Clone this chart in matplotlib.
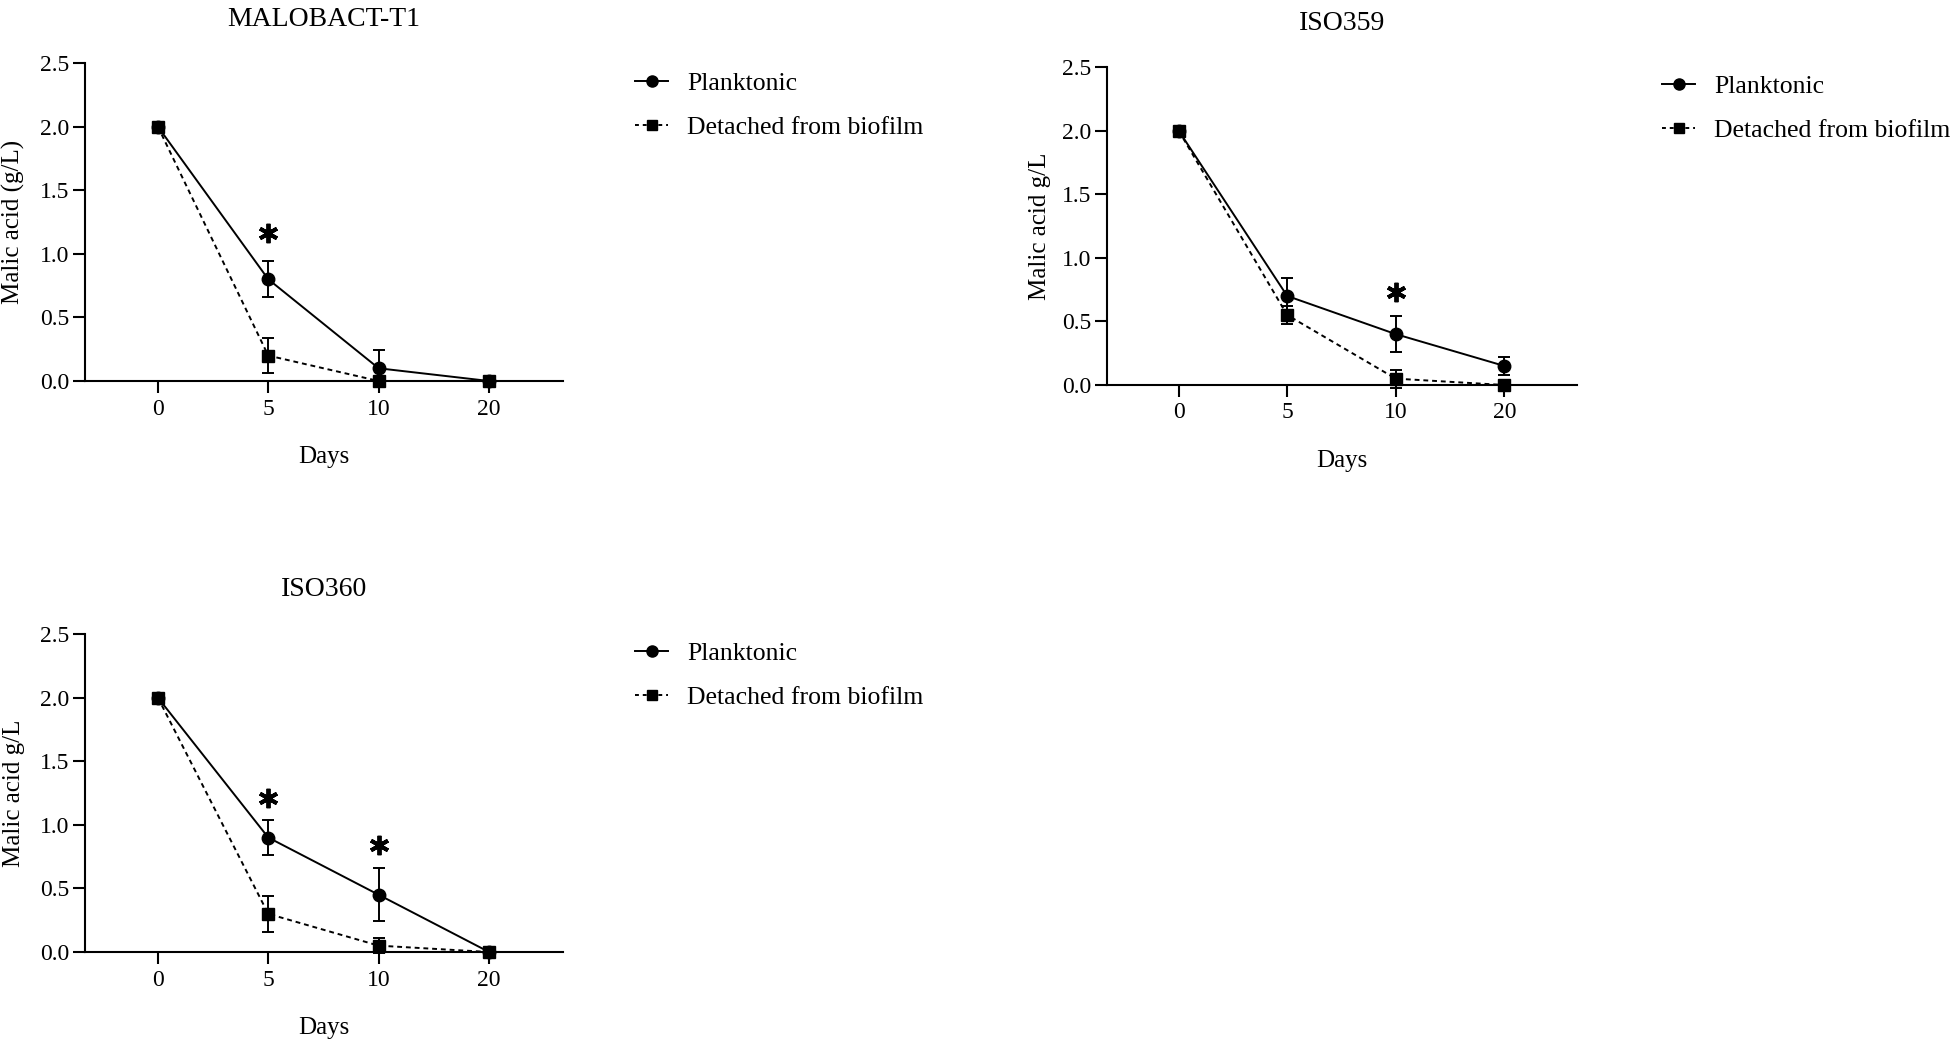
import matplotlib
matplotlib.use("Agg")
import matplotlib.pyplot as plt
from matplotlib.lines import Line2D

plt.rcParams['font.family'] = ['Liberation Serif', 'DejaVu Serif']

# datos
dias = ["0", "5", "10", "20"]

titulos = ["MALOBACT-T1", "ISO359", "ISO360"]
ylabels = ["Malic acid (g/L)", "Malic acid g/L", "Malic acid g/L"]

plank = [[2.0, 0.8, 0.1, 0.0],
         [2.0, 0.7, 0.4, 0.15],
         [2.0, 0.9, 0.45, 0.0]]
plank_err = [[0, 0.14, 0.14, 0],
             [0, 0.14, 0.14, 0.07],
             [0, 0.14, 0.21, 0]]

detach = [[2.0, 0.2, 0.0, 0.0],
          [2.0, 0.55, 0.05, 0.0],
          [2.0, 0.3, 0.05, 0.0]]
detach_err = [[0, 0.14, 0, 0],
              [0, 0.07, 0.07, 0],
              [0, 0.14, 0.06, 0]]

# asteriscos: (indice del dia, altura)
signif = [[(1, 1.16)],
          [(2, 0.73)],
          [(1, 1.21), (2, 0.84)]]

fig = plt.figure(figsize=(19.5, 10.44), dpi=100)

W, H = 1950, 1044
# posiciones en pixeles: izquierda, arriba, derecha, abajo
cajas = [(85, 63, 563, 381), (1107, 67, 1577, 385), (85, 634, 563, 952)]
leyendas = [(635, 72), (1662, 75), (635, 642)]
ylab_x = [-0.126, -0.12, -0.126]

x = list(range(len(dias)))

for i in range(3):
    l, t, r, b = cajas[i]
    ax = fig.add_axes([l / W, 1 - b / H, (r - l) / W, (b - t) / H])

    ax.errorbar(x, plank[i], yerr=plank_err[i], color="black", lw=1.4,
                marker="o", ms=9, capsize=4.5, elinewidth=1.4, capthick=1.4,
                label="Planktonic", clip_on=False, zorder=3)
    ax.errorbar(x, detach[i], yerr=detach_err[i], color="black", lw=1.4,
                ls=(0, (2.5, 2)), marker="s", ms=8.5, capsize=4.5,
                elinewidth=1.4, capthick=1.4,
                label="Detached from biofilm", clip_on=False, zorder=3)

    for (k, yv) in signif[i]:
        ax.plot(k, yv, marker=(6, 2, 0), ms=14, mew=2.8, color="black",
                ls="none")

    ax.set_xlim(-0.66, 3.67)
    ax.set_ylim(0, 2.5)
    ax.set_xticks(x)
    ax.set_xticklabels(dias)
    ax.set_yticks([0, 0.5, 1.0, 1.5, 2.0, 2.5])
    ax.set_yticklabels(["0.0", "0.5", "1.0", "1.5", "2.0", "2.5"])

    ax.spines["top"].set_visible(False)
    ax.spines["right"].set_visible(False)
    ax.spines["left"].set_linewidth(1.5)
    ax.spines["bottom"].set_linewidth(1.5)
    ax.tick_params(axis="x", length=8.6, width=1.5, pad=4, labelsize=17)
    ax.tick_params(axis="y", length=8.6, width=1.5, pad=3, labelsize=17)

    ax.set_title(titulos[i], fontsize=20, pad=27)
    ax.set_ylabel(ylabels[i], fontsize=18)
    ax.yaxis.set_label_coords(ylab_x[i], 0.5)
    ax.set_xlabel("Days", fontsize=18)
    ax.xaxis.set_label_coords(0.5, -0.238)
    ax.xaxis.label.set_va("center")

    h1 = Line2D([], [], color="black", lw=1.4, marker="o", ms=8)
    h2 = Line2D([], [], color="black", lw=1.4, ls=(0, (2, 2)), marker="s", ms=7.5)
    lx, ly = leyendas[i]
    fig.legend([h1, h2], ["Planktonic", "Detached from biofilm"],
               loc="upper left", bbox_to_anchor=(lx / W, 1 - ly / H),
               frameon=False, fontsize=18.5, handlelength=1.3,
               handletextpad=0.74, labelspacing=0.8, borderaxespad=0,
               borderpad=0)

fig.savefig("out.png", dpi=100)
